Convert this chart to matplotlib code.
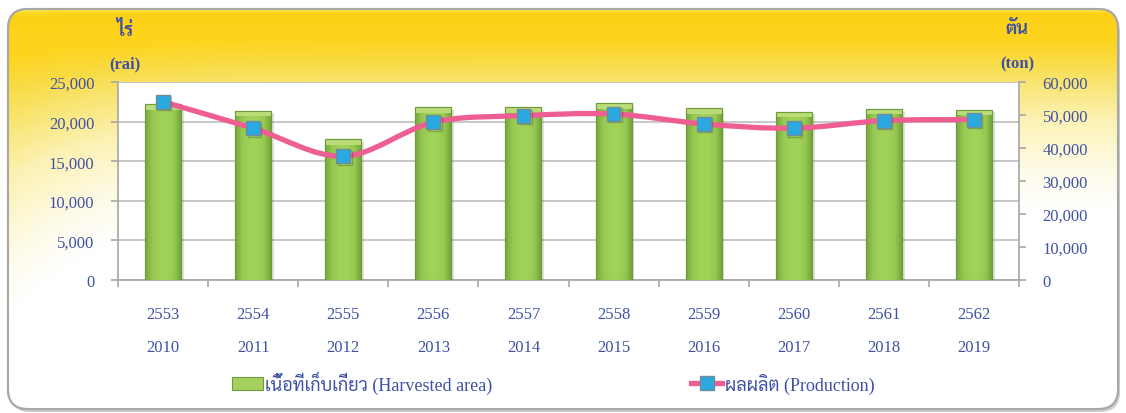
import numpy as np
import matplotlib
matplotlib.use('Agg')
import matplotlib.pyplot as plt
import matplotlib.patheffects as pe
from matplotlib import font_manager
from matplotlib.patches import FancyBboxPatch, PathPatch, Rectangle
from matplotlib.path import Path
from matplotlib.lines import Line2D
from matplotlib.font_manager import FontProperties
from matplotlib.ticker import FuncFormatter, MultipleLocator

# Harvested area (rai) and production (ton), crop years 2553-2562 B.E.
years_be = ['2553', '2554', '2555', '2556', '2557', '2558', '2559', '2560', '2561', '2562']
years_ce = ['2010', '2011', '2012', '2013', '2014', '2015', '2016', '2017', '2018', '2019']
harvested_area = [22200, 21400, 17800, 21800, 21800, 22300, 21700, 21250, 21600, 21500]
production = [54000, 46000, 37500, 47800, 49800, 50300, 47300, 46000, 48300, 48600]

area_label = 'เนื้อที่เก็บเกี่ยว (Harvested area)'
prod_label = 'ผลผลิต (Production)'

# pick an installed font with Thai glyphs
installed = {f.name for f in font_manager.fontManager.ttflist}
thai_font = 'DejaVu Sans'
for name in ['Sarabun', 'Noto Serif Thai', 'Taviraj', 'Noto Sans Thai Looped', 'Noto Sans Thai', 'Athiti']:
    if name in installed:
        thai_font = name
        break
serif = 'Liberation Serif'
txt_color = '#3F51A5'
grey = '#A6A6A6'

W, H = 1126, 414
fig = plt.figure(figsize=(W / 100, H / 100), dpi=100)

# ---- rounded yellow frame behind the chart
bg = fig.add_axes([0, 0, 1, 1], zorder=0)
bg.set_xlim(0, W)
bg.set_ylim(H, 0)
bg.axis('off')

yy, xx = np.mgrid[0:H, 0:W]
stretch = 1 + 0.6 * np.exp(-xx / 90.0)
d = (yy - 10) / stretch
stops = np.array([0, 4, 30, 50, 72, 110, 160, 200])
ramp = np.array([[250, 232, 70], [253, 209, 22], [253, 212, 30], [249, 219, 64],
                 [248, 228, 110], [252, 242, 180], [254, 251, 232], [255, 255, 255]]) / 255.0
grad = np.dstack([np.interp(d, stops, ramp[:, k]) for k in range(3)])

shadow = FancyBboxPatch((10, 13), 1110, 400, boxstyle='round,pad=0,rounding_size=20',
                        fc='#9A9A9A', ec='none', alpha=0.5, zorder=0)
bg.add_patch(shadow)
frame = FancyBboxPatch((8, 10), 1110, 400, boxstyle='round,pad=0,rounding_size=20',
                       fc='white', ec='#A8A8A8', lw=1.5, zorder=1)
bg.add_patch(frame)
im = bg.imshow(grad, extent=(0, W, H, 0), aspect='auto', zorder=2)
im.set_clip_path(frame)
edge = FancyBboxPatch((8, 10), 1110, 400, boxstyle='round,pad=0,rounding_size=20',
                      fc='none', ec='#A8A8A8', lw=1.5, zorder=3)
bg.add_patch(edge)

# ---- chart axes
ax1 = fig.add_axes([118 / W, 133 / H, 901 / W, 198 / H], zorder=2)
ax1.set_facecolor('white')
ax2 = ax1.twinx()

x = np.arange(len(years_be))
ax1.set_xlim(-0.5, len(x) - 0.5)
ax1.set_ylim(0, 25000)
ax2.set_ylim(0, 60000)

ax1.yaxis.set_major_locator(MultipleLocator(5000))
ax2.yaxis.set_major_locator(MultipleLocator(10000))
fmt = FuncFormatter(lambda v, p: f'{int(v):,}')
ax1.yaxis.set_major_formatter(fmt)
ax2.yaxis.set_major_formatter(fmt)

ax1.set_axisbelow(True)
ax1.yaxis.grid(True, color='#BFBFBF', lw=1.2)

for s in ['top', 'right']:
    ax1.spines[s].set_visible(False)
for s in ['left', 'bottom']:
    ax1.spines[s].set_color(grey)
    ax1.spines[s].set_linewidth(1.2)
for s in ['top', 'left', 'bottom']:
    ax2.spines[s].set_visible(False)
ax2.spines['right'].set_color(grey)
ax2.spines['right'].set_linewidth(1.2)

ax1.set_xticks(x)
ax1.set_xticklabels([f'{a}\n{b}' for a, b in zip(years_be, years_ce)])
ax1.set_xticks(np.arange(-0.5, len(x)), minor=True)
ax1.tick_params(axis='x', which='major', length=0, pad=19, labelsize=12, labelcolor=txt_color)
ax1.tick_params(axis='x', which='minor', length=5, color=grey, width=1.2)
ax1.tick_params(axis='y', length=5, color=grey, width=1.2, pad=12, labelsize=12, labelcolor=txt_color)
ax2.tick_params(axis='y', length=5, color=grey, width=1.2, pad=12, labelsize=12, labelcolor=txt_color)
for lab in ax1.get_xticklabels() + ax1.get_yticklabels() + ax2.get_yticklabels():
    lab.set_fontfamily(serif)
for lab in ax1.get_xticklabels():
    lab.set_linespacing(2.35)

# ---- bars with a bevelled green look
bar_face = '#97C850'
bar_edge = '#6E9B3A'
bars = ax1.bar(x, harvested_area, width=0.4, color=bar_face, edgecolor=bar_edge, lw=0.8, zorder=3,
               path_effects=[pe.SimplePatchShadow(offset=(2, -2), alpha=0.15), pe.Normal()])
shade = np.array([[0.47, 0.66, 0.24], [0.59, 0.79, 0.32], [0.63, 0.82, 0.35],
                  [0.63, 0.82, 0.35], [0.59, 0.79, 0.32], [0.45, 0.62, 0.22]])
strip = np.linspace(0, 5, 40)
row = np.array([[np.interp(s, np.arange(6), shade[:, k]) for k in range(3)] for s in strip])[None, :, :]
cap = 25000 * 0.028
for xi, rect, v in zip(x, bars, harvested_area):
    g = ax1.imshow(row, extent=(xi - 0.2, xi + 0.2, 0, v), aspect='auto', zorder=3.5)
    g.set_clip_path(rect)
    ax1.add_patch(Rectangle((xi - 0.2, v - cap), 0.4, cap, fc='#B9DC78', ec='none', zorder=3.6))
    ax1.add_patch(Rectangle((xi - 0.2, 0), 0.4, v, fc='none', ec=bar_edge, lw=0.8, zorder=3.7))
ax1.set_xlim(-0.5, len(x) - 0.5)
ax1.set_ylim(0, 25000)

# ---- smoothed production line (Catmull-Rom segments as cubic Beziers)
pts = np.column_stack([x, production]).astype(float)
verts = [tuple(pts[0])]
codes = [Path.MOVETO]
n = len(pts)
for i in range(n - 1):
    p0 = pts[i - 1] if i > 0 else pts[i]
    p3 = pts[i + 2] if i + 2 < n else pts[i + 1]
    c1 = pts[i] + (pts[i + 1] - p0) / 6.0
    c2 = pts[i + 1] - (p3 - pts[i]) / 6.0
    verts += [tuple(c1), tuple(c2), tuple(pts[i + 1])]
    codes += [Path.CURVE4] * 3
line_color = '#EE5E93'
ax2.add_patch(PathPatch(Path(verts, codes), fill=False, ec=line_color, lw=3.8, capstyle='round', zorder=3))
marker_kw = dict(marker='s', ms=10, mfc='#2AA9E0', mec='#6F8B9A', mew=1.0)
ax2.plot(x, production, ls='none', zorder=4,
         path_effects=[pe.SimpleLineShadow(offset=(1, -1), alpha=0.2), pe.Normal()], **marker_kw)
ax2.set_ylim(0, 60000)

# ---- unit labels
fig.text(125 / W, 1 - 30 / H, 'ไร่', ha='center', va='center', fontsize=13, fontweight='bold',
         color=txt_color, family=[thai_font, 'DejaVu Sans'])
fig.text(125 / W, 1 - 64 / H, '(rai)', ha='center', va='center', fontsize=12, fontweight='bold',
         color=txt_color, family=serif)
fig.text(1017 / W, 1 - 30 / H, 'ตัน', ha='center', va='center', fontsize=13, fontweight='bold',
         color=txt_color, family=[thai_font, 'DejaVu Sans'])
fig.text(1017 / W, 1 - 64 / H, '(ton)', ha='center', va='center', fontsize=12, fontweight='bold',
         color=txt_color, family=serif)

# ---- legend
h_area = Rectangle((0, 0), 1, 1, fc='#A6D15F', ec=bar_edge, lw=0.8)
h_prod = Line2D([], [], color=line_color, lw=3.8, **marker_kw)
fig.legend([h_area, h_prod], [area_label, prod_label], loc='center left',
           bbox_to_anchor=(232 / W, 31 / H), ncol=2, frameon=False, borderpad=0, borderaxespad=0,
           handlelength=1.7, handleheight=0.75, handletextpad=0.15, columnspacing=11.0,
           prop=FontProperties(family=[serif, thai_font], size=13), labelcolor=txt_color)

fig.savefig('out.png', dpi=100)
